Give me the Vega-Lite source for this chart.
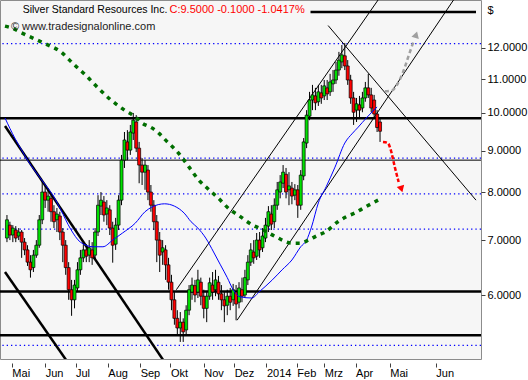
{
  "$schema": "https://vega.github.io/schema/vega-lite/v6.json",
  "width": 481,
  "height": 359,
  "autosize": {"type": "none"},
  "padding": {"left": 0, "top": 0, "right": 47, "bottom": 21},
  "background": "#FFFFFF",
  "config": {
    "view": {"fill": "#F6F6F6", "stroke": "#8C8C8C", "strokeWidth": 1},
    "font": "Liberation Sans",
    "axis": {"grid": false, "domain": false, "labelFont": "Liberation Sans", "labelFontSize": 11, "labelColor": "#000000", "tickColor": "#404040", "tickSize": 4, "titleFont": "Liberation Sans", "labelOverlap": false},
    "axisX": {"labelOverlap": false, "labelFlush": false, "labelBound": false, "tickCount": 30}
  },
  "datasets": {
    "candles": [
      {"t":2,"o":7.04,"h":7.51,"l":6.96,"c":7.41},
      {"t":5,"o":7.30,"h":7.37,"l":7.00,"c":7.10},
      {"t":8,"o":7.10,"h":7.30,"l":6.96,"c":7.24},
      {"t":11,"o":7.20,"h":7.28,"l":6.96,"c":7.04},
      {"t":14,"o":7.08,"h":7.24,"l":7.00,"c":7.16},
      {"t":17,"o":7.16,"h":7.20,"l":6.66,"c":6.96},
      {"t":20,"o":6.96,"h":7.04,"l":6.71,"c":6.81},
      {"t":23,"o":6.81,"h":6.90,"l":6.51,"c":6.58},
      {"t":26,"o":6.58,"h":6.71,"l":6.30,"c":6.44},
      {"t":29,"o":6.48,"h":6.81,"l":6.40,"c":6.71},
      {"t":32,"o":6.71,"h":7.00,"l":6.66,"c":6.90},
      {"t":35,"o":6.90,"h":7.51,"l":6.85,"c":7.41},
      {"t":38,"o":7.41,"h":8.28,"l":7.32,"c":8.01},
      {"t":41,"o":8.01,"h":8.17,"l":7.66,"c":7.83},
      {"t":44,"o":7.83,"h":8.10,"l":7.58,"c":7.92},
      {"t":47,"o":7.87,"h":7.94,"l":7.37,"c":7.58},
      {"t":50,"o":7.58,"h":7.72,"l":7.24,"c":7.37},
      {"t":53,"o":7.41,"h":7.66,"l":7.16,"c":7.53},
      {"t":56,"o":7.49,"h":7.58,"l":7.00,"c":7.16},
      {"t":59,"o":7.16,"h":7.24,"l":6.58,"c":6.90},
      {"t":62,"o":6.90,"h":7.00,"l":6.35,"c":6.48},
      {"t":65,"o":6.48,"h":6.58,"l":5.92,"c":6.09},
      {"t":68,"o":6.09,"h":6.26,"l":5.66,"c":5.92},
      {"t":71,"o":5.92,"h":6.26,"l":5.78,"c":6.17},
      {"t":74,"o":6.12,"h":6.58,"l":6.05,"c":6.44},
      {"t":77,"o":6.44,"h":6.81,"l":6.35,"c":6.66},
      {"t":80,"o":6.66,"h":6.96,"l":6.58,"c":6.81},
      {"t":83,"o":6.81,"h":6.92,"l":6.58,"c":6.69},
      {"t":86,"o":6.71,"h":7.00,"l":6.58,"c":6.85},
      {"t":89,"o":6.81,"h":6.96,"l":6.53,"c":6.66},
      {"t":92,"o":6.71,"h":7.24,"l":6.62,"c":7.16},
      {"t":95,"o":7.16,"h":7.94,"l":7.08,"c":7.72},
      {"t":98,"o":7.70,"h":8.01,"l":7.51,"c":7.83},
      {"t":101,"o":7.79,"h":7.92,"l":7.37,"c":7.51},
      {"t":104,"o":7.53,"h":7.83,"l":7.30,"c":7.66},
      {"t":107,"o":7.62,"h":7.72,"l":7.10,"c":7.24},
      {"t":110,"o":7.24,"h":7.37,"l":6.57,"c":6.90},
      {"t":113,"o":6.92,"h":7.45,"l":6.81,"c":7.30},
      {"t":116,"o":7.30,"h":7.94,"l":7.20,"c":7.83},
      {"t":119,"o":7.83,"h":8.89,"l":7.72,"c":8.76},
      {"t":122,"o":8.76,"h":9.48,"l":8.57,"c":9.27},
      {"t":125,"o":9.22,"h":9.53,"l":8.76,"c":9.01},
      {"t":128,"o":9.01,"h":9.67,"l":8.89,"c":9.48},
      {"t":131,"o":9.45,"h":10.00,"l":9.27,"c":9.80},
      {"t":134,"o":9.75,"h":9.94,"l":8.96,"c":9.06},
      {"t":137,"o":9.06,"h":9.22,"l":8.21,"c":8.64},
      {"t":140,"o":8.64,"h":8.81,"l":8.17,"c":8.47},
      {"t":143,"o":8.47,"h":8.76,"l":8.06,"c":8.64},
      {"t":146,"o":8.52,"h":8.64,"l":7.83,"c":8.01},
      {"t":149,"o":8.01,"h":8.17,"l":7.58,"c":7.72},
      {"t":152,"o":7.72,"h":7.83,"l":7.20,"c":7.37},
      {"t":155,"o":7.37,"h":7.51,"l":6.58,"c":7.00},
      {"t":158,"o":7.00,"h":7.16,"l":6.40,"c":6.71},
      {"t":161,"o":6.77,"h":7.00,"l":6.53,"c":6.85},
      {"t":164,"o":6.81,"h":6.90,"l":6.26,"c":6.53},
      {"t":167,"o":6.53,"h":6.66,"l":6.09,"c":6.22},
      {"t":170,"o":6.22,"h":6.35,"l":5.75,"c":5.92},
      {"t":173,"o":5.92,"h":6.05,"l":5.52,"c":5.62},
      {"t":176,"o":5.62,"h":5.75,"l":5.36,"c":5.47},
      {"t":179,"o":5.47,"h":5.72,"l":5.26,"c":5.56},
      {"t":182,"o":5.56,"h":5.62,"l":5.26,"c":5.41},
      {"t":185,"o":5.44,"h":5.83,"l":5.36,"c":5.75},
      {"t":188,"o":5.75,"h":6.17,"l":5.67,"c":6.09},
      {"t":191,"o":6.05,"h":6.30,"l":5.92,"c":6.17},
      {"t":194,"o":6.16,"h":6.26,"l":5.88,"c":6.00},
      {"t":197,"o":6.05,"h":6.44,"l":5.95,"c":6.26},
      {"t":200,"o":6.22,"h":6.30,"l":5.83,"c":5.98},
      {"t":203,"o":5.98,"h":6.09,"l":5.62,"c":5.78},
      {"t":206,"o":5.78,"h":6.05,"l":5.56,"c":5.98},
      {"t":209,"o":5.98,"h":6.30,"l":5.92,"c":6.21},
      {"t":212,"o":6.17,"h":6.40,"l":5.92,"c":6.05},
      {"t":215,"o":6.09,"h":6.44,"l":5.98,"c":6.26},
      {"t":218,"o":6.22,"h":6.33,"l":5.92,"c":6.02},
      {"t":221,"o":6.02,"h":6.17,"l":5.75,"c":5.92},
      {"t":224,"o":5.92,"h":6.05,"l":5.56,"c":5.82},
      {"t":227,"o":5.83,"h":6.09,"l":5.67,"c":5.98},
      {"t":230,"o":5.98,"h":6.12,"l":5.75,"c":5.88},
      {"t":233,"o":5.92,"h":6.19,"l":5.82,"c":6.09},
      {"t":236,"o":6.05,"h":6.17,"l":5.59,"c":5.85},
      {"t":239,"o":5.88,"h":6.22,"l":5.78,"c":6.12},
      {"t":242,"o":6.09,"h":6.30,"l":5.88,"c":5.98},
      {"t":245,"o":6.00,"h":6.44,"l":5.95,"c":6.30},
      {"t":248,"o":6.26,"h":6.71,"l":6.17,"c":6.58},
      {"t":251,"o":6.58,"h":6.94,"l":6.51,"c":6.81},
      {"t":254,"o":6.77,"h":7.00,"l":6.55,"c":6.66},
      {"t":257,"o":6.69,"h":7.14,"l":6.62,"c":7.00},
      {"t":260,"o":7.00,"h":7.16,"l":6.66,"c":6.81},
      {"t":263,"o":6.85,"h":7.24,"l":6.77,"c":7.08},
      {"t":266,"o":7.04,"h":7.45,"l":6.96,"c":7.30},
      {"t":269,"o":7.28,"h":7.70,"l":7.16,"c":7.58},
      {"t":272,"o":7.53,"h":7.72,"l":7.20,"c":7.32},
      {"t":275,"o":7.37,"h":7.87,"l":7.24,"c":7.72},
      {"t":278,"o":7.72,"h":8.24,"l":7.62,"c":8.06},
      {"t":281,"o":8.01,"h":8.40,"l":7.87,"c":8.24},
      {"t":284,"o":8.21,"h":8.64,"l":8.10,"c":8.47},
      {"t":287,"o":8.42,"h":8.57,"l":7.87,"c":8.01},
      {"t":290,"o":8.06,"h":8.47,"l":7.72,"c":8.15},
      {"t":293,"o":8.10,"h":8.24,"l":7.74,"c":7.92},
      {"t":296,"o":7.94,"h":8.19,"l":7.83,"c":8.06},
      {"t":299,"o":8.06,"h":8.17,"l":7.45,"c":7.72},
      {"t":302,"o":7.72,"h":8.52,"l":7.62,"c":8.40},
      {"t":305,"o":8.38,"h":9.32,"l":8.28,"c":9.22},
      {"t":308,"o":9.19,"h":10.08,"l":9.06,"c":9.94},
      {"t":311,"o":9.91,"h":10.61,"l":9.80,"c":10.37},
      {"t":314,"o":10.37,"h":10.82,"l":10.08,"c":10.52},
      {"t":317,"o":10.49,"h":10.73,"l":10.08,"c":10.29},
      {"t":320,"o":10.32,"h":10.82,"l":10.20,"c":10.61},
      {"t":323,"o":10.58,"h":10.82,"l":10.26,"c":10.43},
      {"t":326,"o":10.49,"h":10.97,"l":10.37,"c":10.79},
      {"t":329,"o":10.73,"h":10.97,"l":10.37,"c":10.55},
      {"t":332,"o":10.61,"h":11.16,"l":10.49,"c":10.91},
      {"t":335,"o":10.85,"h":11.28,"l":10.61,"c":10.97},
      {"t":338,"o":10.97,"h":11.54,"l":10.85,"c":11.28},
      {"t":341,"o":11.28,"h":11.87,"l":11.10,"c":11.60},
      {"t":344,"o":11.54,"h":12.10,"l":11.34,"c":11.77},
      {"t":347,"o":11.74,"h":12.17,"l":11.28,"c":11.41},
      {"t":350,"o":11.41,"h":11.60,"l":10.82,"c":10.97},
      {"t":353,"o":10.97,"h":11.13,"l":10.26,"c":10.43},
      {"t":356,"o":10.43,"h":10.61,"l":9.67,"c":10.02},
      {"t":359,"o":10.08,"h":10.43,"l":9.75,"c":10.26},
      {"t":362,"o":10.23,"h":10.49,"l":9.86,"c":10.08},
      {"t":365,"o":10.14,"h":10.61,"l":10.02,"c":10.43},
      {"t":368,"o":10.43,"h":10.91,"l":10.32,"c":10.73},
      {"t":371,"o":10.73,"h":11.16,"l":10.43,"c":10.52},
      {"t":374,"o":10.52,"h":10.73,"l":10.02,"c":10.14},
      {"t":377,"o":10.37,"h":10.52,"l":9.86,"c":9.97},
      {"t":380,"o":9.97,"h":10.08,"l":9.48,"c":9.60},
      {"t":383,"o":9.75,"h":9.86,"l":9.22,"c":9.50}
    ],
    "blue": [
      {"t":0,"p":9.86},{"t":10,"p":9.32},{"t":17,"p":9.01},{"t":23,"p":8.76},{"t":30,"p":8.52},{"t":40,"p":8.21},{"t":50,"p":7.90},{"t":57,"p":7.62},{"t":67,"p":7.22},{"t":77,"p":6.96},{"t":90,"p":6.87},{"t":100,"p":6.87},{"t":110,"p":7.00},{"t":120,"p":7.14},{"t":133,"p":7.34},{"t":143,"p":7.58},{"t":150,"p":7.68},{"t":163,"p":7.75},{"t":173,"p":7.70},{"t":183,"p":7.55},{"t":190,"p":7.37},{"t":197,"p":7.24},{"t":205,"p":7.04},{"t":213,"p":6.77},{"t":220,"p":6.53},{"t":227,"p":6.30},{"t":233,"p":6.09},{"t":240,"p":5.97},{"t":252,"p":5.95},{"t":260,"p":6.06},{"t":273,"p":6.26},{"t":283,"p":6.44},{"t":293,"p":6.62},{"t":302,"p":6.87},{"t":308,"p":7.00},{"t":313,"p":7.26},{"t":320,"p":7.77},{"t":328,"p":8.13},{"t":337,"p":8.59},{"t":347,"p":9.19},{"t":355,"p":9.45},{"t":360,"p":9.59},{"t":370,"p":9.89},{"t":380,"p":10.17}
    ],
    "green": [
      {"t":0,"p":12.76},{"t":7,"p":12.69},{"t":17,"p":12.52},{"t":33,"p":12.27},{"t":42,"p":12.13},{"t":57,"p":11.87},{"t":70,"p":11.47},{"t":82,"p":11.13},{"t":95,"p":10.73},{"t":107,"p":10.40},{"t":122,"p":10.08},{"t":133,"p":9.89},{"t":140,"p":9.72},{"t":150,"p":9.59},{"t":157,"p":9.45},{"t":165,"p":9.24},{"t":177,"p":8.94},{"t":188,"p":8.59},{"t":198,"p":8.28},{"t":205,"p":8.13},{"t":218,"p":7.87},{"t":230,"p":7.62},{"t":238,"p":7.51},{"t":253,"p":7.30},{"t":262,"p":7.22},{"t":277,"p":7.06},{"t":293,"p":6.94},{"t":302,"p":6.94},{"t":310,"p":7.00},{"t":318,"p":7.08},{"t":327,"p":7.16},{"t":340,"p":7.37},{"t":348,"p":7.47},{"t":357,"p":7.55},{"t":368,"p":7.68},{"t":381,"p":7.83}
    ],
    "hthick": [{"p":9.85},{"p":6.06},{"p":5.36}],
    "hthin": [{"p":8.76}],
    "hdot": [{"p":12.15},{"p":8.81},{"p":7.97},{"p":7.22},{"p":5.21}],
    "topline": [{"t":312,"p":13.28},{"t":481,"p":13.28}],
    "thickdiag": [
      {"id":"A","t":0,"p":9.64},{"id":"A","t":166,"p":4.91},
      {"id":"B","t":0,"p":6.40},{"id":"B","t":66,"p":4.93}
    ],
    "thindiag": [
      {"id":"U","t":175,"p":6.09},{"id":"U","t":383,"p":13.84},
      {"id":"L","t":237,"p":5.59},{"id":"L","t":460,"p":13.84},
      {"id":"D","t":330,"p":12.78},{"id":"D","t":481,"p":7.83}
    ],
    "redarrow": [{"t":386,"p":9.22},{"t":391,"p":9.19},{"t":394,"p":9.01},{"t":398,"p":8.60},{"t":402,"p":8.24}],
    "redtip": [{"t":404.5,"p":8.10}],
    "grayarrow": [{"t":388,"p":10.63},{"t":395,"p":10.65},{"t":403,"p":10.97},{"t":408,"p":11.34},{"t":413,"p":11.82},{"t":417,"p":12.20}],
    "graytip": [{"t":419.5,"p":12.42}],
    "titleblack": [{"t":18,"p":13.35,"text":"Silver Standard Resources Inc."}],
    "titlered": [{"t":168,"p":13.35,"text":"C:9.5000 -0.1000 -1.0417%"}],
    "site": [{"t":6,"p":12.73,"text":"© www.tradesignalonline.com"}]
  },
  "layer": [
    {
      "data": {"name": "hthick"},
      "mark": {"type": "rule", "stroke": "#000000", "strokeWidth": 2.5},
      "encoding": {
        "y": {"field": "p", "type": "quantitative", "title": "$",
          "scale": {"type": "log", "domain": [5.014, 13.73], "nice": false},
          "axis": {"orient": "right", "values": [6, 7, 8, 9, 10, 11, 12], "format": ".4f", "tickSize": 4, "tickCount": 20, "labelPadding": 2, "titleAngle": 0, "titleX": 6, "titleY": 10, "titleAlign": "left", "titleBaseline": "middle", "titleFontWeight": "normal", "titleFontSize": 11, "titleColor": "#000000"}}
      }
    },
    {
      "data": {"name": "hthin"},
      "mark": {"type": "rule", "stroke": "#000000", "strokeWidth": 1},
      "encoding": {"y": {"field": "p", "type": "quantitative", "title": "$", "scale": {"type": "log", "domain": [5.014, 13.73], "nice": false}}}
    },
    {
      "data": {"name": "hdot"},
      "mark": {"type": "rule", "stroke": "#0000FF", "strokeWidth": 1.3, "strokeDash": [1.3, 3]},
      "encoding": {"y": {"field": "p", "type": "quantitative", "title": "$", "scale": {"type": "log", "domain": [5.014, 13.73], "nice": false}}}
    },
    {
      "data": {"name": "topline"},
      "mark": {"type": "line", "stroke": "#000000", "strokeWidth": 2.5},
      "encoding": {
        "x": {"field": "t", "type": "quantitative", "title": null, "scale": {"domain": [0, 481], "nice": false, "zero": false}},
        "y": {"field": "p", "type": "quantitative", "title": "$", "scale": {"type": "log", "domain": [5.014, 13.73], "nice": false}}
      }
    },
    {
      "data": {"name": "thickdiag"},
      "mark": {"type": "line", "stroke": "#000000", "strokeWidth": 2.5, "clip": true},
      "encoding": {
        "x": {"field": "t", "type": "quantitative", "title": null, "scale": {"domain": [0, 481], "nice": false, "zero": false}},
        "y": {"field": "p", "type": "quantitative", "title": "$", "scale": {"type": "log", "domain": [5.014, 13.73], "nice": false}},
        "detail": {"field": "id"}
      }
    },
    {
      "data": {"name": "thindiag"},
      "mark": {"type": "line", "stroke": "#000000", "strokeWidth": 1, "clip": true},
      "encoding": {
        "x": {"field": "t", "type": "quantitative", "title": null, "scale": {"domain": [0, 481], "nice": false, "zero": false}},
        "y": {"field": "p", "type": "quantitative", "title": "$", "scale": {"type": "log", "domain": [5.014, 13.73], "nice": false}},
        "detail": {"field": "id"}
      }
    },
    {
      "data": {"name": "candles"},
      "mark": {"type": "rule", "stroke": "#000000", "strokeWidth": 1},
      "encoding": {
        "x": {"field": "t", "type": "quantitative", "title": null, "scale": {"domain": [0, 481], "nice": false, "zero": false},
          "axis": {"values": [7, 41, 72, 105, 138, 169, 203, 234, 267, 298, 326, 358, 393, 440], "tickCount": 30, "labelExpr": "['Mai','Jun','Jul','Aug','Sep','Okt','Nov','Dez','2014','Feb','Mrz','Apr','Mai','Jun'][indexof([7,41,72,105,138,169,203,234,267,298,326,358,393,440], datum.value)]", "offset": 4, "tickSize": 4, "labelAlign": "left", "labelBaseline": "top", "labelPadding": 0, "labelDx": 1, "labelFlush": false, "labelOverlap": false, "labelBound": false}},
        "y": {"field": "l", "type": "quantitative", "title": "$", "scale": {"type": "log", "domain": [5.014, 13.73], "nice": false}},
        "y2": {"field": "h"}
      }
    },
    {
      "data": {"name": "candles"},
      "mark": {"type": "bar", "size": 3, "stroke": "#000000", "strokeWidth": 0.7},
      "encoding": {
        "x": {"field": "t", "type": "quantitative", "title": null, "scale": {"domain": [0, 481], "nice": false, "zero": false}},
        "y": {"field": "o", "type": "quantitative", "title": "$", "scale": {"type": "log", "domain": [5.014, 13.73], "nice": false}},
        "y2": {"field": "c"},
        "fill": {"condition": {"test": "datum.c >= datum.o", "value": "#00E000"}, "value": "#FF0000"}
      }
    },
    {
      "data": {"name": "blue"},
      "mark": {"type": "line", "stroke": "#0000FF", "strokeWidth": 1, "interpolate": "monotone"},
      "encoding": {
        "x": {"field": "t", "type": "quantitative", "title": null, "scale": {"domain": [0, 481], "nice": false, "zero": false}},
        "y": {"field": "p", "type": "quantitative", "title": "$", "scale": {"type": "log", "domain": [5.014, 13.73], "nice": false}}
      }
    },
    {
      "data": {"name": "green"},
      "mark": {"type": "line", "stroke": "#006E00", "strokeWidth": 3.5, "strokeDash": [4, 5], "interpolate": "monotone"},
      "encoding": {
        "x": {"field": "t", "type": "quantitative", "title": null, "scale": {"domain": [0, 481], "nice": false, "zero": false}},
        "y": {"field": "p", "type": "quantitative", "title": "$", "scale": {"type": "log", "domain": [5.014, 13.73], "nice": false}}
      }
    },
    {
      "data": {"name": "redarrow"},
      "mark": {"type": "line", "stroke": "#FF0000", "strokeWidth": 2.5, "strokeDash": [4, 2], "interpolate": "monotone"},
      "encoding": {
        "x": {"field": "t", "type": "quantitative", "title": null, "scale": {"domain": [0, 481], "nice": false, "zero": false}},
        "y": {"field": "p", "type": "quantitative", "title": "$", "scale": {"type": "log", "domain": [5.014, 13.73], "nice": false}}
      }
    },
    {
      "data": {"name": "redtip"},
      "mark": {"type": "point", "shape": "triangle", "filled": true, "fill": "#FF0000", "opacity": 1, "size": 60, "angle": 163},
      "encoding": {
        "x": {"field": "t", "type": "quantitative", "title": null, "scale": {"domain": [0, 481], "nice": false, "zero": false}},
        "y": {"field": "p", "type": "quantitative", "title": "$", "scale": {"type": "log", "domain": [5.014, 13.73], "nice": false}}
      }
    },
    {
      "data": {"name": "grayarrow"},
      "mark": {"type": "line", "stroke": "#A0A0A0", "strokeWidth": 2.5, "strokeDash": [4, 3], "interpolate": "monotone"},
      "encoding": {
        "x": {"field": "t", "type": "quantitative", "title": null, "scale": {"domain": [0, 481], "nice": false, "zero": false}},
        "y": {"field": "p", "type": "quantitative", "title": "$", "scale": {"type": "log", "domain": [5.014, 13.73], "nice": false}}
      }
    },
    {
      "data": {"name": "graytip"},
      "mark": {"type": "point", "shape": "triangle", "filled": true, "fill": "#A0A0A0", "opacity": 1, "size": 60, "angle": 17},
      "encoding": {
        "x": {"field": "t", "type": "quantitative", "title": null, "scale": {"domain": [0, 481], "nice": false, "zero": false}},
        "y": {"field": "p", "type": "quantitative", "title": "$", "scale": {"type": "log", "domain": [5.014, 13.73], "nice": false}}
      }
    },
    {
      "data": {"name": "titleblack"},
      "mark": {"type": "text", "align": "left", "baseline": "middle", "fontSize": 10.5, "font": "Liberation Sans", "fill": "#000000"},
      "encoding": {
        "x": {"field": "t", "type": "quantitative", "title": null, "scale": {"domain": [0, 481], "nice": false, "zero": false}},
        "y": {"field": "p", "type": "quantitative", "title": "$", "scale": {"type": "log", "domain": [5.014, 13.73], "nice": false}},
        "text": {"field": "text"}
      }
    },
    {
      "data": {"name": "titlered"},
      "mark": {"type": "text", "align": "left", "baseline": "middle", "fontSize": 11, "font": "Liberation Sans", "fill": "#FF0000"},
      "encoding": {
        "x": {"field": "t", "type": "quantitative", "title": null, "scale": {"domain": [0, 481], "nice": false, "zero": false}},
        "y": {"field": "p", "type": "quantitative", "title": "$", "scale": {"type": "log", "domain": [5.014, 13.73], "nice": false}},
        "text": {"field": "text"}
      }
    },
    {
      "data": {"name": "site"},
      "mark": {"type": "text", "align": "left", "baseline": "middle", "fontSize": 11, "font": "Liberation Sans", "fill": "#222222"},
      "encoding": {
        "x": {"field": "t", "type": "quantitative", "title": null, "scale": {"domain": [0, 481], "nice": false, "zero": false}},
        "y": {"field": "p", "type": "quantitative", "title": "$", "scale": {"type": "log", "domain": [5.014, 13.73], "nice": false}},
        "text": {"field": "text"}
      }
    }
  ]
}
